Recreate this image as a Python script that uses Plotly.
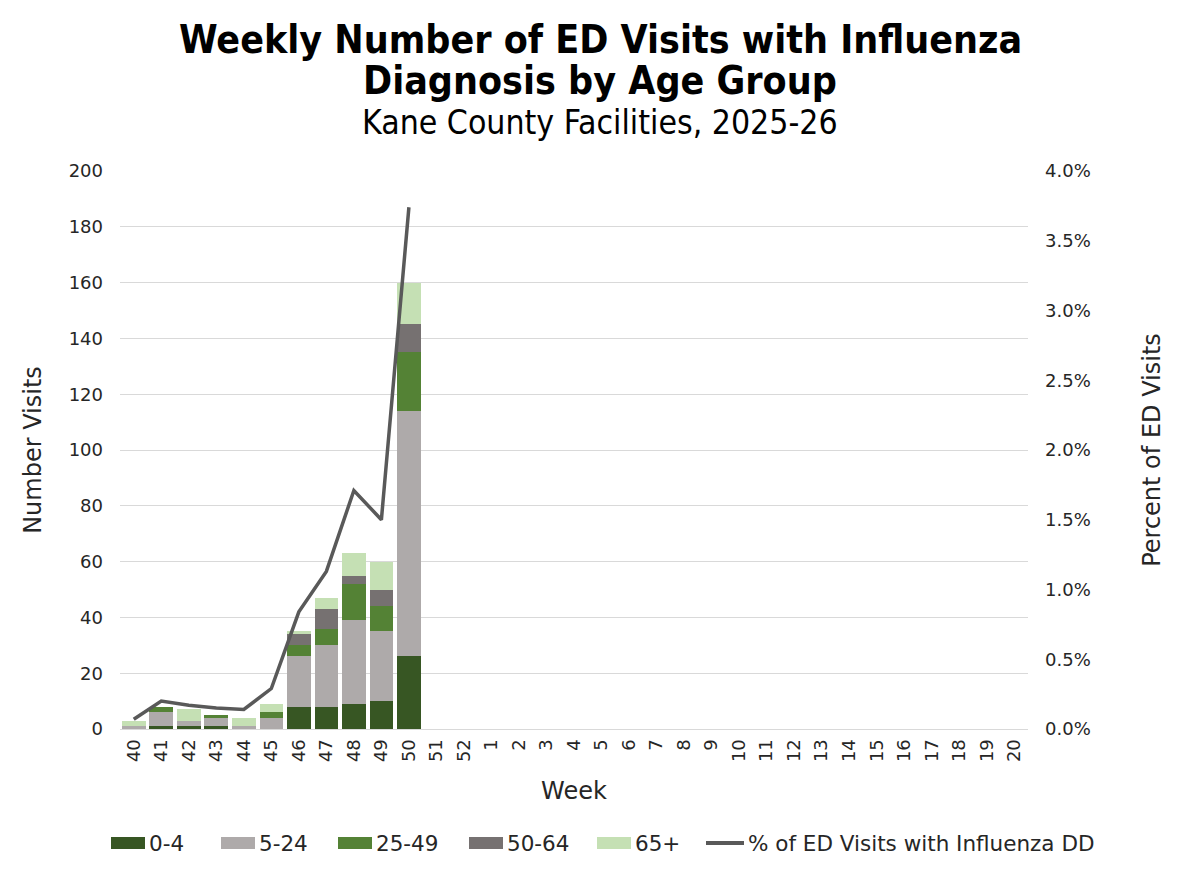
import plotly.graph_objects as go

# ---------------- Data ----------------
weeks = ["40", "41", "42", "43", "44", "45", "46", "47", "48", "49", "50", "51", "52",
         "1", "2", "3", "4", "5", "6", "7", "8", "9", "10", "11", "12", "13", "14",
         "15", "16", "17", "18", "19", "20"]
weeks_reported = weeks[:11]

age_0_4 = [0, 1, 1, 1, 0, 0, 8, 8, 9, 10, 26]
age_5_24 = [1, 5, 2, 3, 1, 4, 18, 22, 30, 25, 88]
age_25_49 = [0, 2, 0, 1, 0, 2, 4, 6, 13, 9, 21]
age_50_64 = [0, 0, 0, 0, 0, 0, 4, 7, 3, 6, 10]
age_65_plus = [2, 0, 4, 0, 3, 3, 1, 4, 8, 10, 15]

pct_ed_flu = [0.0007, 0.0020, 0.0017, 0.0015, 0.0014, 0.0029, 0.0084, 0.0113, 0.0171, 0.0150, 0.0374]

age_groups = ["0-4", "5-24", "25-49", "50-64", "65+"]
age_values = [age_0_4, age_5_24, age_25_49, age_50_64, age_65_plus]
age_colors = ["#375623", "#AEAAAA", "#548235", "#767171", "#C5E0B4"]
line_name = "% of ED Visits with Influenza DD"
line_color = "#595959"

font = "DejaVu Sans"
font_cond = "DejaVu Sans Condensed"
txt = "#262626"

# the page puts the figure 8px in from the window edge
OFF = 8
W, HT = 1200 - 2 * OFF, 872 - 2 * OFF
L, R, T, B = 120 - OFF, W - (1028 - OFF), 171 - OFF, HT - (729 - OFF)
PW, PH = W - L - R, HT - T - B


def px(page_x):
    return (page_x - OFF - L) / PW


def py(page_y):
    return (HT - B - (page_y - OFF)) / PH


fig = go.Figure()

# ---------------- Stacked bars ----------------
for name, vals, color in zip(age_groups, age_values, age_colors):
    fig.add_trace(go.Bar(
        x=weeks_reported, y=vals, name=name, showlegend=False,
        marker=dict(color=color, line=dict(width=0)),
    ))

# ---------------- Percent line ----------------
fig.add_trace(go.Scatter(
    x=weeks_reported, y=pct_ed_flu, name=line_name, showlegend=False,
    mode="lines", yaxis="y2",
    line=dict(color=line_color, width=3.5),
))

# ---------------- Titles ----------------
annotations = []
for text, y, size, fam in [
    ("<b>Weekly Number of ED Visits with Influenza</b>", 39, 39, font_cond),
    ("<b>Diagnosis by Age Group</b>", 81, 39, font_cond),
    ("Kane County Facilities, 2025-26", 122, 33.5, font_cond),
]:
    annotations.append(dict(
        text=text, x=px(600), y=py(y), xref="paper", yref="paper",
        xanchor="center", yanchor="middle", showarrow=False,
        font=dict(family=fam, size=size, color="black"),
    ))

# ---------------- Legend (drawn by hand, wide swatches like the original) ----------------
shapes = []
legend_x = [111, 221, 338, 469, 597]
legend_y = 843
for name, color, x0 in zip(age_groups, age_colors, legend_x):
    shapes.append(dict(
        type="rect", xref="paper", yref="paper",
        x0=px(x0), x1=px(x0 + 34), y0=py(legend_y + 6), y1=py(legend_y - 6),
        fillcolor=color, line=dict(width=0),
    ))
    annotations.append(dict(
        text=name, x=px(x0 + 36), y=py(legend_y), xref="paper", yref="paper",
        xanchor="left", yanchor="middle", showarrow=False,
        font=dict(family=font, size=21.5, color=txt),
    ))
shapes.append(dict(
    type="line", xref="paper", yref="paper",
    x0=px(706), x1=px(744), y0=py(legend_y), y1=py(legend_y),
    line=dict(color=line_color, width=4),
))
annotations.append(dict(
    text=line_name, x=px(746), y=py(legend_y), xref="paper", yref="paper",
    xanchor="left", yanchor="middle", showarrow=False,
    font=dict(family=font, size=21.5, color=txt),
))

# ---------------- Layout ----------------
fig.update_layout(
    width=W, height=HT,
    barmode="stack", bargap=0.14,
    plot_bgcolor="white", paper_bgcolor="white",
    font=dict(family=font, size=18, color=txt),
    margin=dict(l=L, r=R, t=T, b=B, autoexpand=False),
    annotations=annotations,
    shapes=shapes,
    showlegend=False,
    xaxis=dict(
        type="category", categoryorder="array", categoryarray=weeks,
        range=[-0.5, len(weeks) - 0.5],
        tickangle=-90, showgrid=False,
        showline=True, linecolor="#D9D9D9", linewidth=1,
        ticks="", tickfont=dict(size=18, color=txt), ticklabelstandoff=2,
        title=dict(text="Week", font=dict(size=24, color=txt), standoff=21),
    ),
    yaxis=dict(
        range=[0, 200], dtick=20, showgrid=True, gridcolor="#D9D9D9",
        zeroline=False, ticks="", tickfont=dict(size=18, color=txt),
        ticklabelstandoff=16,
        title=dict(text="Number Visits", font=dict(size=24, color=txt), standoff=20),
    ),
    yaxis2=dict(
        overlaying="y", side="right", range=[0, 0.04], dtick=0.005,
        tickformat=".1%", showgrid=False, zeroline=False, ticks="",
        tickfont=dict(size=18, color=txt), ticklabelstandoff=16,
        title=dict(text="Percent of ED Visits", font=dict(size=24, color=txt), standoff=53),
    ),
)

fig.write_html("out.html")
